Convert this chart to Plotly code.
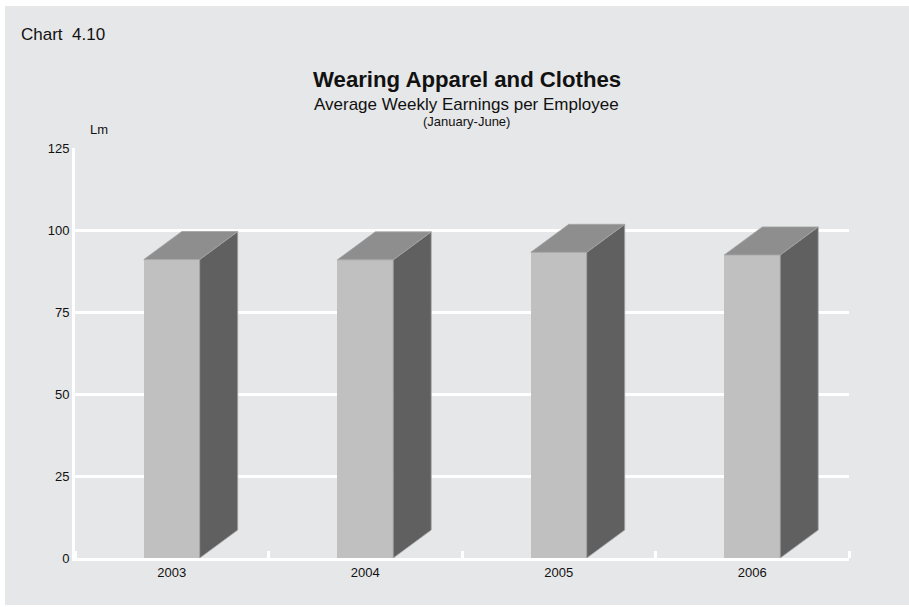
import plotly.graph_objects as go

# ---- data -------------------------------------------------------------
years = ["2003", "2004", "2005", "2006"]
earnings = [91.0, 90.9, 93.2, 92.4]          # Lm, average weekly, Jan-Jun
y_ticks = [0, 25, 50, 75, 100, 125]

# ---- layout constants (pixels) -----------------------------------------
W, H = 909, 607
PL, PR, PT, PB = 75, 849, 148, 558           # plot area edges
Y_MAX = 125
BAR_W = 0.289                                # front face width, category units
DEPTH_PX = (38, 28)                          # 3-D depth offset in pixels

FONT = "Liberation Sans, Arial, sans-serif"
BG = "#e6e7e8"
FRONT, SIDE, TOP, EDGE = "#c0c0c0", "#606060", "#8e8e8e", "#a3a3a3"

px_per_cat = (PR - PL) / len(years)
px_per_unit = (PB - PT) / Y_MAX
dx = DEPTH_PX[0] / px_per_cat
dy = DEPTH_PX[1] / px_per_unit


def px2x(px):
    return (px - PL) / (PR - PL)


def py2y(py):
    return (PB - py) / (PB - PT)


xpos = list(range(len(years)))

fig = go.Figure()

# front faces
fig.add_trace(go.Bar(
    x=xpos, y=earnings, width=BAR_W,
    marker=dict(color=FRONT, line=dict(width=0)),
    hoverinfo="skip", showlegend=False,
))

# side and top faces of each bar
for x, v in zip(xpos, earnings):
    xl, xr = x - BAR_W / 2, x + BAR_W / 2
    fig.add_trace(go.Scatter(
        x=[xr, xr + dx, xr + dx, xr, xr],
        y=[0, dy, v + dy, v, 0],
        fill="toself", fillcolor=SIDE, mode="lines",
        line=dict(color=EDGE, width=0.8),
        hoverinfo="skip", showlegend=False,
    ))
    fig.add_trace(go.Scatter(
        x=[xl, xr, xr + dx, xl + dx, xl],
        y=[v, v, v + dy, v + dy, v],
        fill="toself", fillcolor=TOP, mode="lines",
        line=dict(color=EDGE, width=0.8),
        hoverinfo="skip", showlegend=False,
    ))

# white frame around the grey panel
frame = [
    (0, 0, 5, H),          # left strip
    (0, 0, W, 6),          # top strip
    (0, 605, W, H),        # bottom strip
]
shapes = [
    dict(type="rect", xref="paper", yref="paper",
         x0=px2x(a), x1=px2x(c), y0=py2y(d), y1=py2y(b),
         fillcolor="white", line=dict(width=0), layer="above")
    for a, b, c, d in frame
]


def label(text, px, py, size, bold=False, anchor="center"):
    return dict(
        text=f"<b>{text}</b>" if bold else text,
        xref="paper", yref="paper", x=px2x(px), y=py2y(py),
        xanchor=anchor, yanchor="middle", showarrow=False,
        font=dict(family=FONT, size=size, color="#111111"),
    )


annotations = [
    label("Chart\u00a0\u00a04.10", 18.5, 34.5, 17, anchor="left"),
    label("Wearing Apparel and Clothes", 466.5, 79.5, 22.2, bold=True),
    label("Average Weekly Earnings per Employee", 466.5, 104.5, 17),
    label("(January-June)", 466.5, 121.5, 13),
    label("Lm", 87.5, 129.5, 13, anchor="left"),
]

fig.update_layout(
    width=W, height=H,
    margin=dict(l=PL, r=W - PR, t=PT, b=H - PB, pad=0),
    paper_bgcolor=BG, plot_bgcolor=BG,
    font=dict(family=FONT, size=13, color="#111111"),
    shapes=shapes, annotations=annotations,
    bargap=0,
    xaxis=dict(
        range=[-0.5, len(years) - 0.5], fixedrange=True,
        tickmode="array", tickvals=xpos, ticktext=years, ticks="",
        showgrid=False, zeroline=False,
        showline=True, linecolor="white", linewidth=3,
        minor=dict(tickmode="linear", tick0=-0.5, dtick=1, ticks="inside",
                   ticklen=7, tickwidth=3, tickcolor="white", showgrid=False),
        tickfont=dict(size=13),
    ),
    yaxis=dict(
        range=[0, Y_MAX], fixedrange=True,
        tickmode="array", tickvals=y_ticks, ticks="",
        showgrid=True, gridcolor="white", gridwidth=3,
        zeroline=False,
        showline=True, linecolor="white", linewidth=3,
        tickfont=dict(size=13),
    ),
)

fig.write_html("out.html")
